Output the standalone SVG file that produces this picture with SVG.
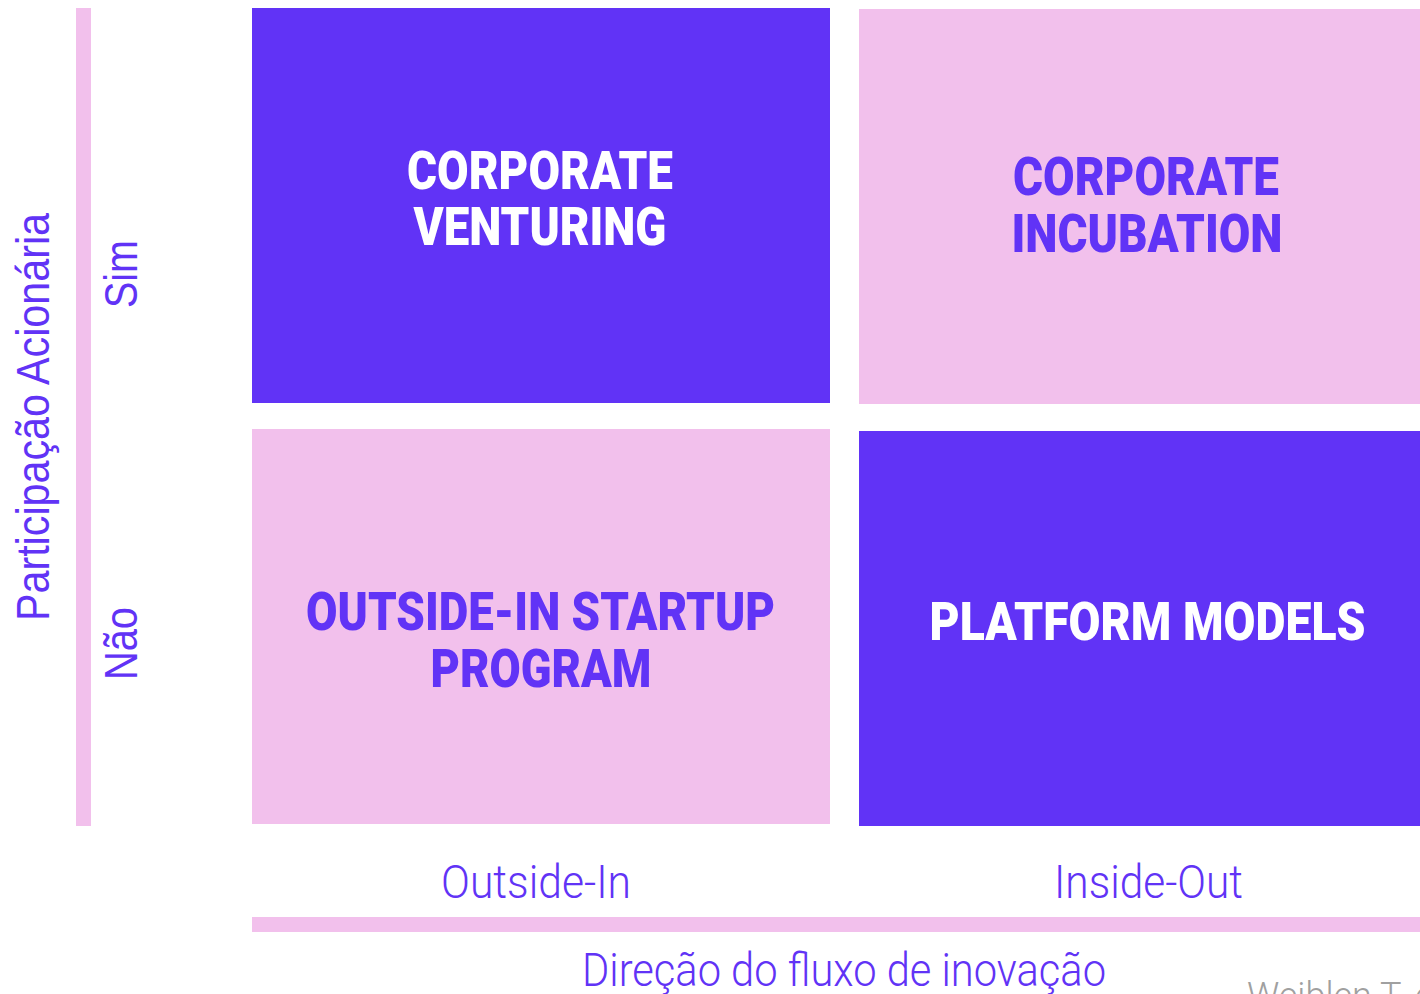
<svg xmlns="http://www.w3.org/2000/svg" width="1420" height="994" viewBox="0 0 1420 994">
<style>
.purple{fill:#6133F6}
.pink{fill:#F2C0EC}
.head{font-family:Roboto,"Liberation Sans",sans-serif;font-weight:900;font-size:53px;text-anchor:middle}
.lbl{font-family:Roboto,"Liberation Sans",sans-serif;font-weight:300;font-size:46px;text-anchor:middle;fill:#6133F6}
.axis{font-family:"Liberation Sans",Arial,sans-serif;font-size:46px;text-anchor:middle;fill:#6133F6}
.w{fill:#FFFFFF}
.p{fill:#6133F6}
</style>
<rect width="1420" height="994" fill="#FFFFFF"/>
<g id="axis-y">
<rect class="pink" x="76" y="8" width="15" height="818"/>
<text class="axis" transform="translate(49,417) rotate(-90)" textLength="408" lengthAdjust="spacingAndGlyphs">Participação Acionária</text>
<text class="axis" transform="translate(137,274) rotate(-90)" textLength="68" lengthAdjust="spacingAndGlyphs">Sim</text>
<text class="axis" transform="translate(137,643.5) rotate(-90)" textLength="73" lengthAdjust="spacingAndGlyphs">Não</text>
</g>
<g id="corporate-venturing">
<rect class="purple" x="252" y="8" width="578" height="395"/>
<text class="head w" x="540" y="189" textLength="266" lengthAdjust="spacingAndGlyphs">CORPORATE</text>
<text class="head w" x="540" y="245" textLength="253" lengthAdjust="spacingAndGlyphs">VENTURING</text>
</g>
<g id="corporate-incubation">
<rect class="pink" x="859" y="9" width="575" height="395"/>
<text class="head p" x="1146" y="195" textLength="266" lengthAdjust="spacingAndGlyphs">CORPORATE</text>
<text class="head p" x="1147" y="252" textLength="271" lengthAdjust="spacingAndGlyphs">INCUBATION</text>
</g>
<g id="outside-in-startup-program">
<rect class="pink" x="252" y="429" width="578" height="395"/>
<text class="head p" x="540.5" y="630" textLength="469" lengthAdjust="spacingAndGlyphs">OUTSIDE-IN STARTUP</text>
<text class="head p" x="541" y="686.5" textLength="221" lengthAdjust="spacingAndGlyphs">PROGRAM</text>
</g>
<g id="platform-models">
<rect class="purple" x="859" y="431" width="575" height="395"/>
<text class="head w" x="1147.5" y="640" textLength="436" lengthAdjust="spacingAndGlyphs">PLATFORM MODELS</text>
</g>
<g id="axis-x">
<text class="lbl" x="536" y="898" textLength="190" lengthAdjust="spacingAndGlyphs">Outside-In</text>
<text class="lbl" x="1148.5" y="898" textLength="189" lengthAdjust="spacingAndGlyphs">Inside-Out</text>
<rect class="pink" x="252" y="917" width="1168" height="15"/>
<text class="lbl" x="844" y="986" textLength="524" lengthAdjust="spacingAndGlyphs">Direção do fluxo de inovação</text>
</g>
<g id="source">
<text x="1247" y="1008" font-family="Roboto,'Liberation Sans',sans-serif" font-weight="300" font-size="36" fill="#A0A0A0">Weiblen T. et al.</text>
</g>
<g id="connectors"></g>
</svg>
